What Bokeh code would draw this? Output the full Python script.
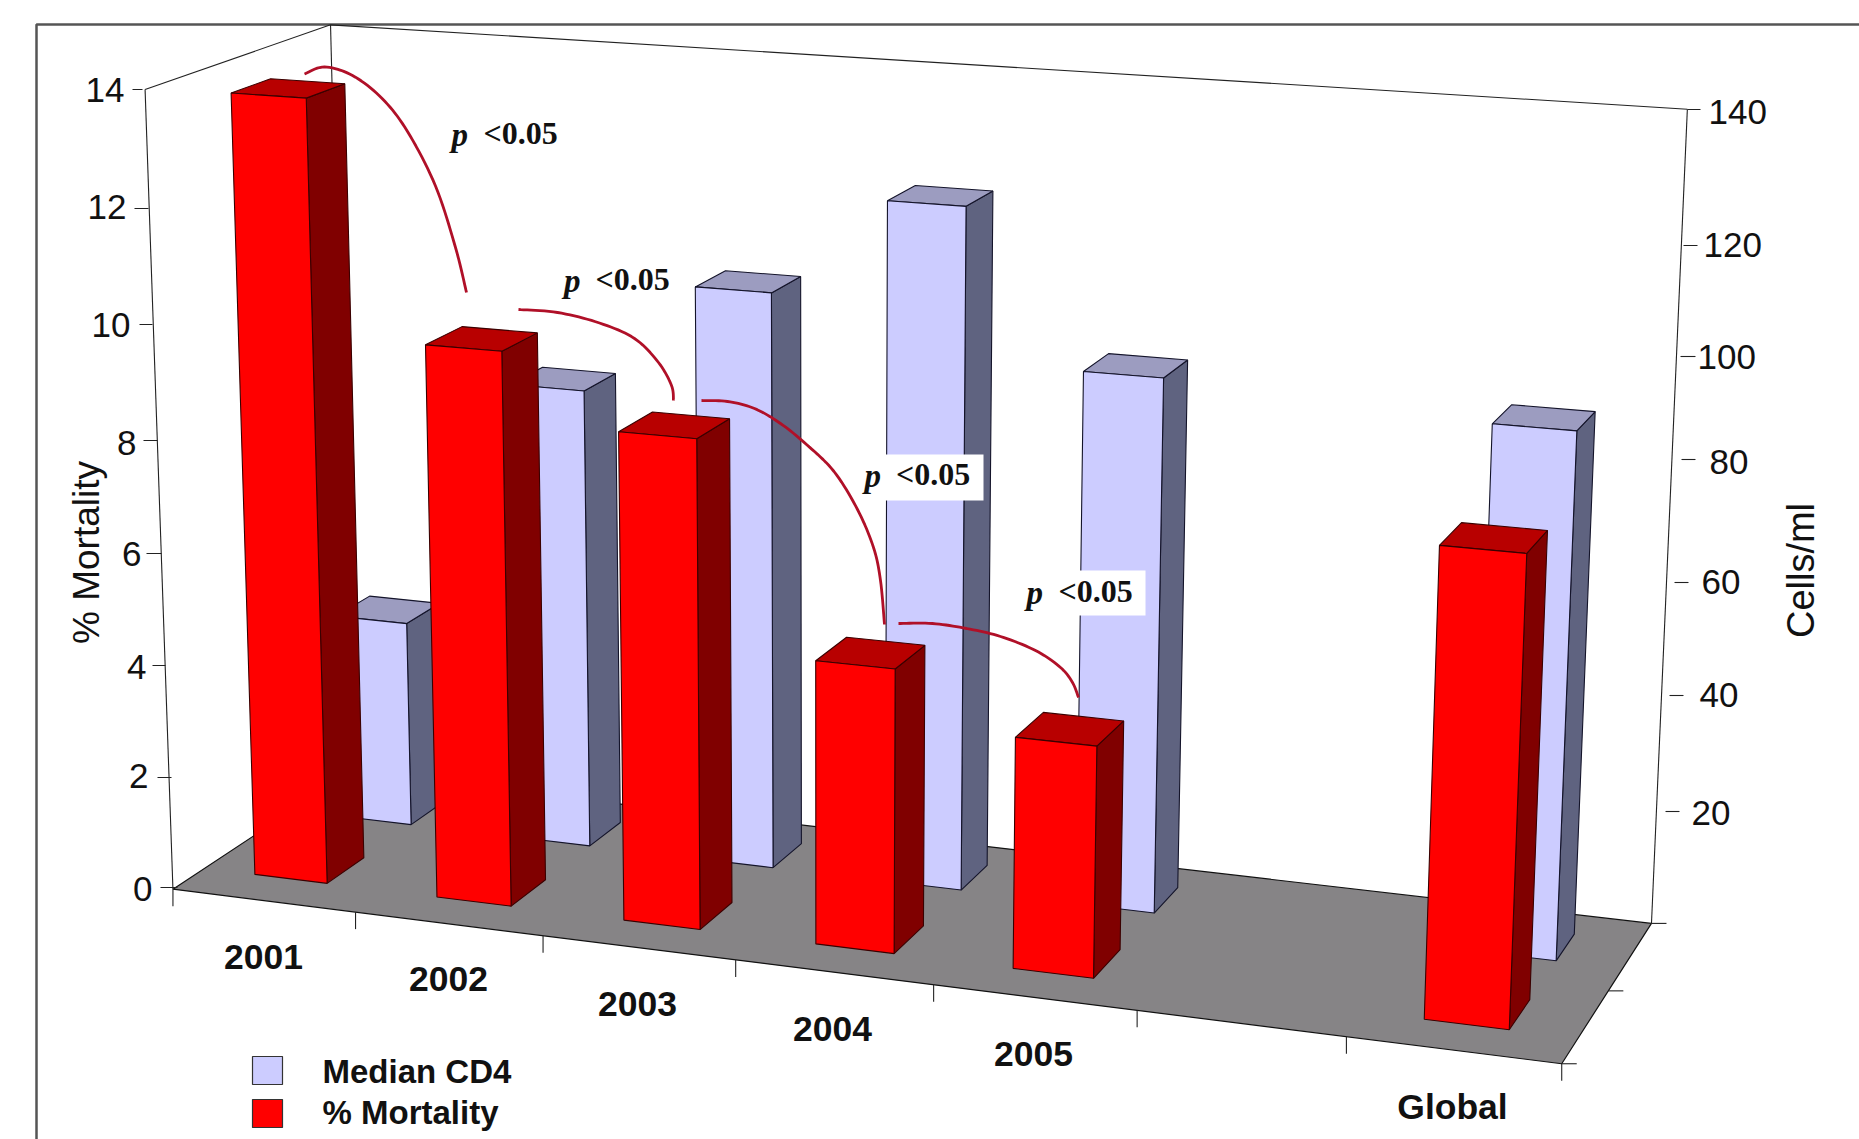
import numpy as np
from bokeh.core.properties import value
from bokeh.embed import file_html
from bokeh.models import Range1d
from bokeh.plotting import figure
from bokeh.resources import INLINE

# ---- data -------------------------------------------------------------
categories = ["2001", "2002", "2003", "2004", "2005", "", "Global"]
mortality_pct = [13.8, 9.75, 8.55, 4.95, 4.0, None, 7.9]
median_cd4 = [37.6, 83, 103, 120.4, 93.8, None, 90.7]
left_ticks = [0, 2, 4, 6, 8, 10, 12, 14]
right_ticks = [20, 40, 60, 80, 100, 120, 140]

# ---- box geometry: world (category, depth, % mortality) to page pixels --
W, H = 1859, 1139
BOX_CORNERS = [
    ((0, 0, 0), (178, 887)),
    ((0, 0, 14), (139, 89)),
    ((0, 1, 14), (336, 24)),
    ((0, 1, 0), (343, 774)),
    ((7, 1, 14), (1686, 109)),
    ((7, 1, 0), (1652, 921)),
    ((7, 0, 0), (1561, 1065)),
]


def fit_camera(corners):
    rows, rhs = [], []
    for (X, Z, Y), (px, py) in corners:
        rows.append([X, Z, Y, 1, 0, 0, 0, 0, -px * X, -px * Z, -px * Y])
        rhs.append(px)
        rows.append([0, 0, 0, 0, X, Z, Y, 1, -py * X, -py * Z, -py * Y])
        rhs.append(py)
    sol = np.linalg.lstsq(np.array(rows, float), np.array(rhs, float), rcond=None)[0]
    return np.append(sol, 1.0).reshape(3, 4)


CAM = fit_camera(BOX_CORNERS)


def project(X, Z, Y):
    v = CAM @ np.array([X, Z, Y, 1.0])
    return v[0] / v[2], v[1] / v[2]


def quad_px(points):
    pts = [project(*q) for q in points]
    return [a for a, _ in pts], [b for _, b in pts]


RED_SPAN = (0.28, 0.68)
CD4_SPAN = (0.28, 0.68)
RED_DEPTH = (0.17, 0.38)
CD4_DEPTH = (0.66, 0.86)


def bar_faces(vals, span, depth, scale=1.0):
    front, side, top = ([], []), ([], []), ([], [])
    for i, v in enumerate(vals):
        if v is None:
            continue
        h = v * scale
        x0, x1 = i + span[0], i + span[1]
        z0, z1 = depth
        fx, fy = quad_px([(x0, z0, 0), (x1, z0, 0), (x1, z0, h), (x0, z0, h)])
        sx, sy = quad_px([(x1, z0, 0), (x1, z1, 0), (x1, z1, h), (x1, z0, h)])
        tx, ty = quad_px([(x0, z0, h), (x1, z0, h), (x1, z1, h), (x0, z1, h)])
        front[0].append(fx); front[1].append(fy)
        side[0].append(sx); side[1].append(sy)
        top[0].append(tx); top[1].append(ty)
    return front, side, top


def smooth(points, n=10):
    # Catmull-Rom through the control points of a hand-drawn arc
    P = np.array(points, float)
    P = np.vstack([P[0], P, P[-1]])
    out = []
    for k in range(1, len(P) - 2):
        for t in np.linspace(0, 1, n, endpoint=False):
            out.append(0.5 * ((2 * P[k]) + (P[k + 1] - P[k - 1]) * t
                              + (2 * P[k - 1] - 5 * P[k] + 4 * P[k + 1] - P[k + 2]) * t ** 2
                              + (3 * P[k] - P[k - 1] - 3 * P[k + 1] + P[k + 2]) * t ** 3))
    out.append(P[-1])
    out = np.array(out)
    return out[:, 0].tolist(), out[:, 1].tolist()


p = figure(width=W, height=H, x_range=Range1d(0, W), y_range=Range1d(H, 0),
           output_backend="svg", toolbar_location=None, min_border=0,
           background_fill_color="white", border_fill_color="white")
p.axis.visible = False
p.grid.visible = False
p.outline_line_color = None

SANS = value("Liberation Sans")
SERIF = value("Liberation Serif")
TICK = "#222222"

# outer frame
p.line([36, 36, W], [H, 24, 24], line_color="#555555", line_width=2.5)

# floor and wall edges
fx, fy = quad_px([(0, 0, 0), (7, 0, 0), (7, 1, 0), (0, 1, 0)])
p.patch(fx, fy, fill_color="#868486", line_color="#111111", line_width=1.2)
for a, b in [((0, 0, 0), (0, 0, 14)), ((0, 0, 14), (0, 1, 14)), ((0, 1, 14), (0, 1, 0)),
             ((0, 1, 14), (7, 1, 14)), ((7, 1, 14), (7, 1, 0))]:
    xs, ys = quad_px([a, b])
    p.line(xs, ys, line_color="#222222", line_width=1.1)

# category ticks along the front floor edge
for i in range(8):
    x, y = project(i, 0, 0)
    p.line([x, x], [y, y + 17], line_color=TICK, line_width=1.1)
for z in (0, 0.5, 1):
    x, y = project(7, z, 0)
    p.line([x, x + 15], [y, y], line_color=TICK, line_width=1.1)

# bars: the CD4 series stands behind the mortality series
CD4_COLOURS = ("#CCCCFF", "#5F6380", "#9C9CC0")
RED_COLOURS = ("#FF0000", "#800000", "#B80000")
for vals, span, depth, scale, cols, edge in [
    (median_cd4, CD4_SPAN, CD4_DEPTH, 0.1, CD4_COLOURS, "#14142A"),
    (mortality_pct, RED_SPAN, RED_DEPTH, 1.0, RED_COLOURS, "#3A0000"),
]:
    front, side, top = bar_faces(vals, span, depth, scale)
    for i in range(len(front[0])):
        p.patch(side[0][i], side[1][i], fill_color=cols[1], line_color=edge, line_width=1.1)
        p.patch(top[0][i], top[1][i], fill_color=cols[2], line_color=edge, line_width=1.1)
        p.patch(front[0][i], front[1][i], fill_color=cols[0], line_color=edge, line_width=1.1)

# left axis
left_label_right = [152, 148, 146, 141, 136, 130, 126, 124]
left_label_y = [888, 775, 666, 553, 442, 324, 206, 89]
left_tick_x = [(160, 177), (157, 171), (152, 165), (146, 161), (143, 157), (139, 152), (134, 148), (132, 142)]
left_tick_y = [887, 777, 665, 553, 440, 324, 208, 89]
for k, t in enumerate(left_ticks):
    p.line(list(left_tick_x[k]), [left_tick_y[k]] * 2, line_color=TICK, line_width=1.1)
    p.text([left_label_right[k]], [left_label_y[k]], text=[str(t)], text_font=SANS,
           text_font_size="35px", text_align="right", text_baseline="middle", text_color="#111111")

# right axis
right_label_x = [1691, 1699, 1701, 1709, 1697, 1703, 1708]
right_label_y = [812, 694, 581, 461, 356, 244, 111]
right_tick_x = [(1665, 1679), (1669, 1683), (1674, 1688), (1681, 1695), (1680, 1695), (1683, 1697), (1687, 1700)]
right_tick_y = [811, 695, 582, 459, 356, 245, 109]
for k, t in enumerate(right_ticks):
    p.line(list(right_tick_x[k]), [right_tick_y[k]] * 2, line_color=TICK, line_width=1.1)
    p.text([right_label_x[k]], [right_label_y[k]], text=[str(t)], text_font=SANS,
           text_font_size="35px", text_align="left", text_baseline="middle", text_color="#111111")

# category labels
cat_x = [263, 448, 637, 832, 1033, 1452]
cat_y = [956, 978, 1003, 1028, 1053, 1106]
cat_text = [c for c in categories if c]
p.text(cat_x, cat_y, text=cat_text, text_font=SANS, text_font_size="35.5px",
       text_font_style="bold", text_align="center", text_baseline="middle", text_color="#111111")

# axis titles
p.text([86], [552], text=["% Mortality"], angle=np.pi / 2, text_font=SANS, text_font_size="37px",
       text_align="center", text_baseline="middle", text_color="#111111")
p.text([1800], [570], text=["Cells/ml"], angle=np.pi / 2, text_font=SANS, text_font_size="38px",
       text_align="center", text_baseline="middle", text_color="#111111")

# white plates behind two of the significance labels
p.quad(left=[863, 1022], right=[983, 1145], top=[454, 570], bottom=[500, 615],
       fill_color="white", line_color=None)

# significance arcs
arcs = [
    [(304, 73.5), (324, 66.5), (352, 75), (381.6, 98), (407, 131), (435, 185.5), (455, 247), (466, 292)],
    [(518, 309), (557, 312), (599, 322.5), (634, 338), (658, 362), (671, 385), (673, 400)],
    [(701, 400), (727, 401), (754, 408), (780, 423), (806, 444), (833.5, 471), (857, 509), (873, 547), (880, 580), (884, 624)],
    [(898, 623), (932, 623), (966, 628), (1000, 636), (1035, 650), (1060, 667), (1072, 682), (1078, 697)],
]
for arc in arcs:
    xs, ys = smooth(arc)
    p.line(xs, ys, line_color="#B01028", line_width=2.8)

# significance labels
p_x = [451, 563.5, 864, 1026]
lt_x = [483, 595, 895.6, 1058]
sig_y = [132.5, 278, 473, 590]
p.text(p_x, [y + 2 for y in sig_y], text=["p"] * 4, text_font=SERIF, text_font_size="33px",
       text_font_style="bold italic", text_align="left", text_baseline="middle", text_color="#111111")
p.text(lt_x, sig_y, text=["<0.05"] * 4, text_font=SERIF, text_font_size="32px",
       text_font_style="bold", text_align="left", text_baseline="middle", text_color="#111111")

# legend
p.quad(left=[252, 252], right=[282, 282], top=[1056, 1099], bottom=[1084, 1127],
       fill_color=["#CCCCFF", "#FF0000"], line_color="#333333", line_width=1.2)
p.text([322, 322], [1071, 1112], text=["Median CD4", "% Mortality"], text_font=SANS,
       text_font_size="33px", text_font_style="bold", text_align="left", text_baseline="middle",
       text_color="#111111")

open("out.html", "w").write(file_html(p, INLINE))
